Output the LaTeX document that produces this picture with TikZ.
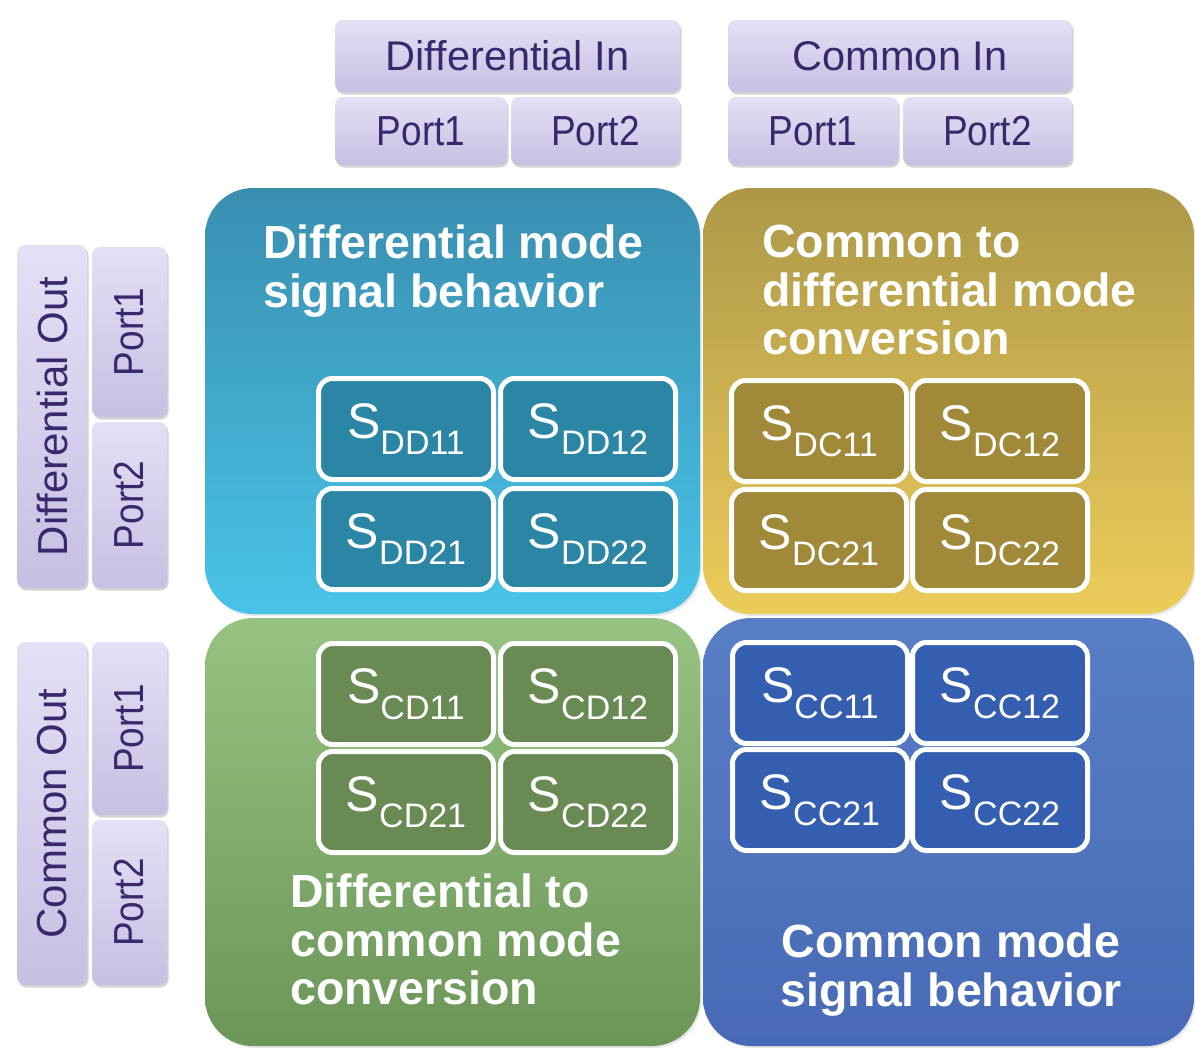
\documentclass[tikz,border=0pt]{standalone}
\usepackage{fontspec}
\usepackage{xcolor}
\setmainfont{Liberation Sans}
\newfontfamily\portfont[FakeStretch=0.88]{Liberation Sans}
\usetikzlibrary{shadows}

% lavender port labels
\definecolor{lavtop}{RGB}{228,224,245}
\definecolor{lavbot}{RGB}{198,192,227}
\definecolor{lavtext}{RGB}{58,40,108}
% quadrants
\definecolor{ddtop}{RGB}{58,142,176}
\definecolor{ddbot}{RGB}{72,196,232}
\definecolor{ddin}{RGB}{42,134,164}
\definecolor{dctop}{RGB}{172,152,72}
\definecolor{dcbot}{RGB}{236,204,90}
\definecolor{dcin}{RGB}{160,137,56}
\definecolor{cdtop}{RGB}{150,194,130}
\definecolor{cdbot}{RGB}{108,150,88}
\definecolor{cdin}{RGB}{106,138,84}
\definecolor{cctop}{RGB}{88,126,198}
\definecolor{ccbot}{RGB}{72,106,182}
\definecolor{ccin}{RGB}{52,94,176}

\newcommand{\sparam}[1]{{\fontsize{50}{50}\selectfont S}{\fontsize{34}{34}\selectfont\raisebox{-16pt}{#1}}}

\tikzset{
  lavbox/.style={rounded corners=8pt, inner sep=0pt, top color=lavtop, bottom color=lavbot,
    text=lavtext, drop shadow={opacity=0.35, shadow xshift=1.5pt, shadow yshift=-2.5pt}},
  portlabel/.style={lavbox, font=\portfont\fontsize{42}{42}\selectfont},
  outlabel/.style={lavbox, font=\fontsize{42}{42}\selectfont},
  quad/.style={rounded corners=48pt, inner sep=0pt,
    drop shadow={opacity=0.2, shadow xshift=1.5pt, shadow yshift=-2pt}},
  sbox/.style={rounded corners=14pt, draw=white, line width=5pt, text=white, inner sep=0pt,
    minimum width=175pt, minimum height=101pt,
    drop shadow={opacity=0.3, shadow xshift=1pt, shadow yshift=-2pt}},
  title/.style={text=white, font=\fontsize{46.5}{48.5}\selectfont\bfseries, inner sep=0pt}
}

\begin{document}
\begin{tikzpicture}[x=1pt, y=-1pt]
  \useasboundingbox (0,0) rectangle (1195,1052);

  % Quadrant 1: differential mode
  \node[quad, minimum width=495pt, minimum height=426pt, top color=ddtop, bottom color=ddbot] (dd) at (452.5,401) {};
  \node[title, anchor=north west, align=left] (ddtitle) at (263,225) {Differential mode\\signal behavior};
  \node[sbox, fill=ddin] (dd11) at (406,429) {\sparam{DD11}};
  \node[sbox, fill=ddin] (dd12) at (588,429) {\sparam{DD12}};
  \node[sbox, fill=ddin] (dd21) at (406,539) {\sparam{DD21}};
  \node[sbox, fill=ddin] (dd22) at (588,539) {\sparam{DD22}};

  % Quadrant 2: common to differential
  \node[quad, minimum width=491pt, minimum height=426pt, top color=dctop, bottom color=dcbot] (dc) at (948.5,401) {};
  \node[title, anchor=north west, align=left] (dctitle) at (762,225) {Common to\\differential mode\\conversion};
  \node[sbox, fill=dcin] (dc11) at (819,431) {\sparam{DC11}};
  \node[sbox, fill=dcin] (dc12) at (1000,431) {\sparam{DC12}};
  \node[sbox, fill=dcin] (dc21) at (819,540) {\sparam{DC21}};
  \node[sbox, fill=dcin] (dc22) at (1000,540) {\sparam{DC22}};

  % Quadrant 3: differential to common
  \node[quad, minimum width=495pt, minimum height=428pt, top color=cdtop, bottom color=cdbot] (cd) at (452.5,832) {};
  \node[title, anchor=north west, align=left] (cdtitle) at (290,874) {Differential to\\common mode\\conversion};
  \node[sbox, fill=cdin] (cd11) at (406,694) {\sparam{CD11}};
  \node[sbox, fill=cdin] (cd12) at (588,694) {\sparam{CD12}};
  \node[sbox, fill=cdin] (cd21) at (406,802) {\sparam{CD21}};
  \node[sbox, fill=cdin] (cd22) at (588,802) {\sparam{CD22}};

  % Quadrant 4: common mode
  \node[quad, minimum width=491pt, minimum height=428pt, top color=cctop, bottom color=ccbot] (cc) at (948.5,832) {};
  \node[title, anchor=north, align=center] (cctitle) at (951,924) {Common mode\\signal behavior};
  \node[sbox, fill=ccin] (cc11) at (820,693) {\sparam{CC11}};
  \node[sbox, fill=ccin] (cc12) at (1000,693) {\sparam{CC12}};
  \node[sbox, fill=ccin] (cc21) at (820,800) {\sparam{CC21}};
  \node[sbox, fill=ccin] (cc22) at (1000,800) {\sparam{CC22}};

  % inputs on top
  \node[lavbox, minimum width=345pt, minimum height=72pt, font=\fontsize{41.5}{41.5}\selectfont] (diffin) at (507.5,56) {Differential In};
  \node[portlabel, minimum width=172pt, minimum height=68pt] (dip1) at (421,131) {Port1};
  \node[portlabel, minimum width=169pt, minimum height=68pt] (dip2) at (595.5,131) {Port2};
  \node[lavbox, minimum width=344pt, minimum height=72pt, font=\fontsize{41.5}{41.5}\selectfont] (comin) at (900,56) {Common In};
  \node[portlabel, minimum width=170pt, minimum height=68pt] (cip1) at (813,131) {Port1};
  \node[portlabel, minimum width=169pt, minimum height=68pt] (cip2) at (987.5,131) {Port2};

  % outputs on the left
  \node[outlabel, rotate=90, minimum width=343pt, minimum height=70pt] (diffout) at (52,416.5) {Differential Out};
  \node[portlabel, rotate=90, minimum width=170pt, minimum height=75pt] (dop1) at (129.5,332) {Port1};
  \node[portlabel, rotate=90, minimum width=166pt, minimum height=75pt] (dop2) at (129.5,505) {Port2};
  \node[outlabel, rotate=90, minimum width=343pt, minimum height=70pt] (comout) at (52,813.5) {Common Out};
  \node[portlabel, rotate=90, minimum width=173pt, minimum height=75pt] (cop1) at (129.5,728.5) {Port1};
  \node[portlabel, rotate=90, minimum width=165pt, minimum height=75pt] (cop2) at (129.5,902.5) {Port2};
\end{tikzpicture}
\end{document}
